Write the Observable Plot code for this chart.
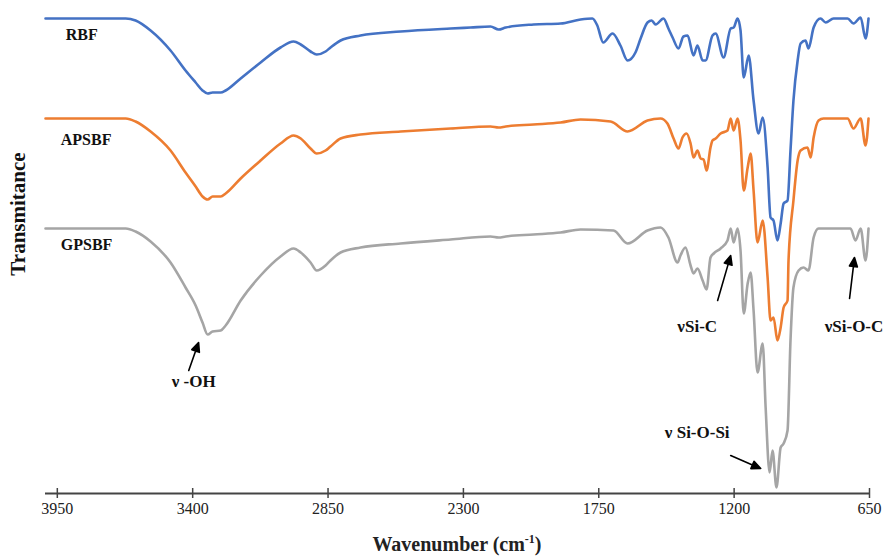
<!DOCTYPE html>
<html>
<head>
<meta charset="utf-8">
<script src="https://cdn.jsdelivr.net/npm/d3@7"></script>
<script src="https://cdn.jsdelivr.net/npm/@observablehq/plot@0.6"></script>
<style>
  html, body { margin: 0; padding: 0; background: #fff; }
  #wrap { position: relative; width: 885px; height: 556px; }
  #xtitle { position: absolute; left: 45px; width: 824px; top: 533px; text-align: center;
    font-family: "Liberation Serif", "Times New Roman", serif; font-weight: bold; font-size: 20px; line-height: 22px; color: #222; }
  #xtitle sup { font-size: 12px; line-height: 0; }
</style>
</head>
<body>
<div id="wrap"><div id="chart"></div><div id="xtitle">Wavenumber (cm<sup>-1</sup>)</div></div>
<script>
// Wavenumber (cm-1) tick labels
const xTicks = [3950, 3400, 2850, 2300, 1750, 1200, 650];
const seriesNames = ["RBF", "APSBF", "GPSBF"];
const seriesColors = ["#4472C4", "#ED7D31", "#A5A5A5"];

// Offset transmittance (a.u.): [wavenumber, value]
const rbf = [
  [3998,475],[3672,475],[3632,473],[3571,463],[3490,443],[3429,423],[3388,411],[3360,403],[3339,400],
  [3319,401],[3286,401],[3266,403],[3205,415],[3124,431],[3043,446],[2990,452],[2961,449],[2921,442],
  [2896,439],[2860,442],[2840,446],[2799,453],[2718,458],[2555,462],[2352,465],[2271,466],[2190,467],
  [2157,464],[2128,466],[2015,469],[1905,470],[1824,474],[1776,475],[1756,468],[1732,451],[1694,460],
  [1662,448],[1633,433],[1601,441],[1580,455],[1552,471],[1535,473],[1519,469],[1487,475],[1467,465],
  [1450,456],[1426,445],[1406,457],[1389,458],[1365,438],[1349,448],[1328,433],[1316,433],[1288,458],
  [1275,460],[1243,436],[1214,465],[1202,466],[1186,475],[1174,463],[1161,416],[1141,438],[1121,393],
  [1101,360],[1084,376],[1064,326],[1052,276],[1040,273],[1024,253],[1011,270],[999,290],[983,293],
  [971,343],[959,393],[942,433],[930,450],[910,453],[898,445],[877,466],[849,475],[828,471],[796,475],
  [739,475],[715,470],[686,476],[666,455],[654,475]
];
const apsbf = [
  [3998,375],[3672,375],[3632,372],[3571,362],[3490,343],[3429,321],[3388,307],[3360,297],[3339,294],
  [3319,297],[3286,297],[3266,300],[3205,315],[3124,333],[3043,350],[2990,358],[2961,355],[2921,345],
  [2896,340],[2860,343],[2840,347],[2799,355],[2718,359],[2555,362],[2352,365],[2190,367],[2157,366],
  [2128,367],[2015,369],[1905,371],[1824,374],[1702,372],[1633,362],[1552,373],[1499,375],[1471,370],
  [1446,355],[1426,345],[1410,356],[1393,360],[1377,350],[1365,336],[1349,343],[1336,335],[1324,334],
  [1312,323],[1296,346],[1288,353],[1275,355],[1255,360],[1227,363],[1214,375],[1202,363],[1186,375],
  [1174,353],[1161,303],[1145,326],[1133,340],[1121,303],[1105,251],[1084,273],[1064,216],[1052,173],
  [1040,176],[1024,153],[1011,166],[999,186],[983,193],[979,233],[959,293],[942,333],[930,343],
  [902,346],[889,336],[877,356],[857,373],[837,375],[739,375],[715,365],[686,375],[666,348],[654,375]
];
const gpsbf = [
  [3998,265],[3672,265],[3632,262],[3571,252],[3490,231],[3429,206],[3388,188],[3360,171],[3339,159],
  [3319,162],[3286,163],[3266,168],[3205,193],[3124,218],[3043,237],[2990,245],[2961,241],[2921,231],
  [2896,223],[2860,228],[2840,233],[2799,241],[2718,246],[2555,250],[2352,254],[2190,257],[2157,256],
  [2128,257],[2015,259],[1905,261],[1824,264],[1690,263],[1633,250],[1552,263],[1499,266],[1467,256],
  [1430,231],[1418,238],[1398,246],[1377,228],[1365,220],[1349,225],[1328,213],[1312,204],[1296,236],
  [1283,240],[1255,245],[1227,253],[1214,265],[1202,251],[1186,265],[1174,243],[1161,180],[1145,210],
  [1133,221],[1121,183],[1105,121],[1084,150],[1072,86],[1056,21],[1044,43],[1028,6],[1011,46],
  [999,50],[983,63],[971,153],[959,206],[938,223],[918,226],[898,223],[877,256],[857,265],[727,265],
  [707,253],[686,265],[666,233],[654,265]
];

// Series label positions and band annotations
const seriesLabels = [
  {name: "RBF", x: 3916, y: 459},
  {name: "APSBF", x: 3936, y: 354},
  {name: "GPSBF", x: 3936, y: 249}
];
const annotations = [
  {text: "ν -OH", x: 3396, y: 112, x1: 3416, y1: 123, x2: 3376, y2: 151},
  {text: "νSi-C", x: 1350, y: 167, x1: 1267, y1: 193, x2: 1214, y2: 238},
  {text: "νSi-O-C", x: 713, y: 167, x1: 731, y1: 195, x2: 711, y2: 236},
  {text: "ν Si-O-Si", x: 1350, y: 61, x1: 1214, y1: 38, x2: 1092, y2: 25}
];

const allSeries = [rbf, apsbf, gpsbf];
const serif = "'Liberation Serif', 'Times New Roman', serif";

const W = 885, H = 535, mTop = 0, mBottom = 42, mLeft = 45, mRight = 16;
const xDomain = [3998, 650], yDomain = [0, 493];

// Scales matching the plot, used to orient the annotation arrows
const sx = Plot.scale({x: {domain: xDomain, range: [mLeft, W - mRight]}});
const sy = Plot.scale({y: {domain: yDomain, range: [H - mBottom, mTop]}});
const arrowVecs = annotations.map(a => {
  const dx = sx.apply(a.x2) - sx.apply(a.x1);
  const dy = sy.apply(a.y2) - sy.apply(a.y1);
  return {x: a.x1, y: a.y1, length: Math.hypot(dx, dy), rotate: Math.atan2(dx, -dy) * 180 / Math.PI};
});
const filledArrow = {
  draw(context, l) {
    const hl = 9, hw = 4;
    context.moveTo(0, 0);
    context.lineTo(0, -l + hl);
    context.moveTo(0, -l);
    context.lineTo(-hw, -l + hl);
    context.lineTo(hw, -l + hl);
    context.closePath();
  }
};

const lineMarks = allSeries.map((s, i) =>
  Plot.line(s, {x: d => d[0], y: d => d[1], stroke: seriesColors[i], strokeWidth: 2.6, curve: "monotone-x"})
);

const chart = Plot.plot({
  width: W,
  height: H,
  marginTop: mTop,
  marginBottom: mBottom,
  marginLeft: mLeft,
  marginRight: mRight,
  style: {background: "#fff", fontFamily: serif},
  x: {domain: xDomain, axis: null},
  y: {domain: yDomain, axis: null},
  length: {type: "identity"},
  marks: [
    ...lineMarks,
    Plot.ruleY([0], {stroke: "#444", strokeWidth: 1.8}),
    Plot.ruleX(xTicks, {x: d => d, y1: 0, y2: 0, insetTop: -5, insetBottom: -5, stroke: "#444", strokeWidth: 1.5}),
    Plot.text(xTicks, {x: d => d, frameAnchor: "bottom", dy: 20, text: d => String(d), fontSize: 16, fill: "#222", fontFamily: serif}),
    Plot.text(seriesLabels, {x: "x", y: "y", text: "name", textAnchor: "start", fontSize: 16, fontWeight: "bold", fill: "#111", fontFamily: serif}),
    Plot.text(["Transmitance"], {frameAnchor: "left", textAnchor: "middle", dx: -27, dy: -33, rotate: -90, fontSize: 21, fontWeight: "bold", fill: "#111", fontFamily: serif}),
    Plot.vector(arrowVecs, {x: "x", y: "y", length: "length", rotate: "rotate", anchor: "start", shape: filledArrow, stroke: "#000", fill: "#000", strokeWidth: 1.6}),
    Plot.text(annotations, {x: "x", y: "y", text: "text", fontSize: 17, fontWeight: "bold", fill: "#111", fontFamily: serif})
  ]
});
document.getElementById("chart").appendChild(chart);
</script>
</body>
</html>
